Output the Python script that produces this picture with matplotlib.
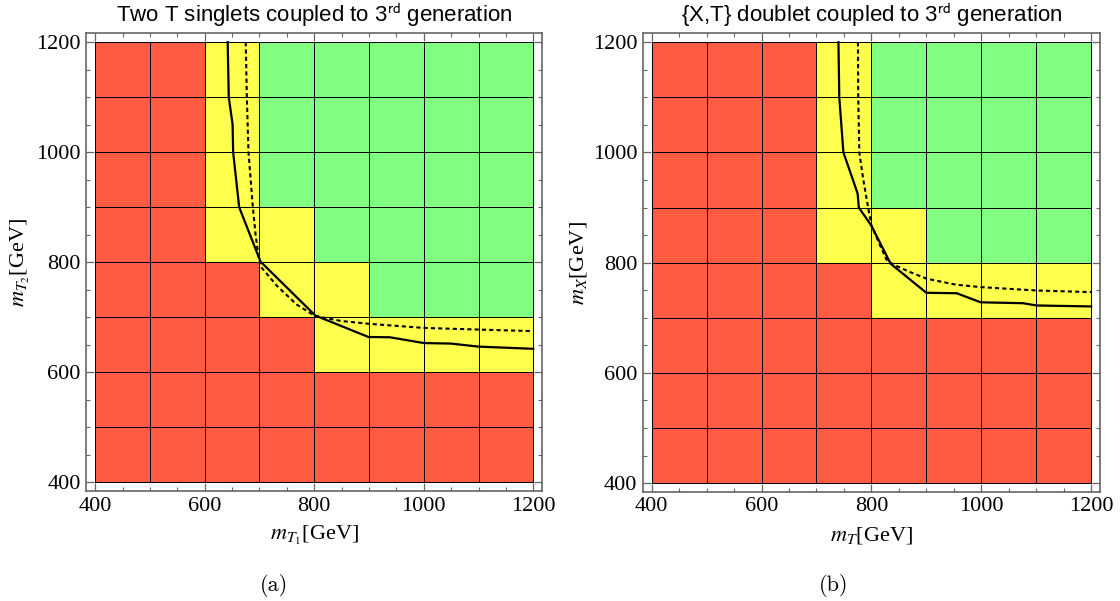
import matplotlib
matplotlib.use("Agg")
import matplotlib.pyplot as plt
import numpy as np
from matplotlib.colors import ListedColormap
from matplotlib.ticker import MultipleLocator

plt.rcParams["font.family"] = "Liberation Serif"

MASS_EDGES = [400, 500, 600, 700, 800, 900, 1000, 1100, 1200]

# 0 = excluded (red), 1 = yellow, 2 = allowed (green); rows run from m=400 upward
STATUS_A = [
    [0, 0, 0, 0, 0, 0, 0, 0],
    [0, 0, 0, 0, 0, 0, 0, 0],
    [0, 0, 0, 0, 1, 1, 1, 1],
    [0, 0, 0, 1, 1, 2, 2, 2],
    [0, 0, 1, 1, 2, 2, 2, 2],
    [0, 0, 1, 2, 2, 2, 2, 2],
    [0, 0, 1, 2, 2, 2, 2, 2],
    [0, 0, 1, 2, 2, 2, 2, 2],
]
STATUS_B = [
    [0, 0, 0, 0, 0, 0, 0, 0],
    [0, 0, 0, 0, 0, 0, 0, 0],
    [0, 0, 0, 0, 0, 0, 0, 0],
    [0, 0, 0, 0, 1, 1, 1, 1],
    [0, 0, 0, 1, 1, 2, 2, 2],
    [0, 0, 0, 1, 2, 2, 2, 2],
    [0, 0, 0, 1, 2, 2, 2, 2],
    [0, 0, 0, 1, 2, 2, 2, 2],
]

A_SOLID_X = [642, 644, 651, 652, 663, 702, 802, 899, 938, 1000, 1050, 1100, 1200]
A_SOLID_Y = [1200, 1100, 1050, 1000, 900, 801, 703, 664, 663.5, 653, 652, 646.5, 642.5]
A_DOT_X = [675, 677, 680, 684, 688, 693, 698, 704, 732, 768, 800, 823, 850, 900, 1000, 1100, 1200]
A_DOT_Y = [1200, 1100, 1000, 950, 900, 850, 812, 790, 757, 723, 703, 698, 693, 688, 680.5, 677.5, 674.7]

B_SOLID_X = [740, 741.5, 749, 764, 775, 777, 800, 835, 900, 955, 999, 1076, 1100, 1200]
B_SOLID_Y = [1200, 1100, 1000, 957, 925, 900, 867, 798, 745.3, 744.5, 728, 726.4, 722.3, 720.5]
B_DOT_X = [775.5, 776, 778, 785, 794, 800, 827, 839, 850, 870, 900, 954, 1000, 1100, 1200]
B_DOT_Y = [1200, 1100, 1000, 952, 900, 867, 806, 797, 792, 783, 771, 760, 755.5, 749.5, 746.5]

TITLES = ["Two T singlets coupled to 3$^{\\rm rd}$ generation",
          "{X,T} doublet coupled to 3$^{\\rm rd}$ generation"]
XLABELS = ["$m_{T_1}$[GeV]", "$m_T$[GeV]"]
YLABELS = ["$m_{T_2}$[GeV]", "$m_X$[GeV]"]
CAPTIONS = ["(a)", "(b)"]

cmap = ListedColormap(["#FF5A42", "#FFFF4D", "#80FF80"])
frame = "#666666"

fig = plt.figure(figsize=(11.2, 6.01), dpi=100)
panels = [
    (fig.add_axes([0.0771, 0.1830, 0.4069, 0.7615]), STATUS_A,
     (A_SOLID_X, A_SOLID_Y), (A_DOT_X, A_DOT_Y), 0.245),
    (fig.add_axes([0.5740, 0.1815, 0.4081, 0.7630]), STATUS_B,
     (B_SOLID_X, B_SOLID_Y), (B_DOT_X, B_DOT_Y), 0.744),
]

for i, (ax, status, solid, dotted, cap_x) in enumerate(panels):
    ax.pcolormesh(MASS_EDGES, MASS_EDGES, np.array(status), cmap=cmap,
                  vmin=-0.5, vmax=2.5, edgecolors="black", linewidth=0.6)
    ax.plot(solid[0], solid[1], color="black", lw=1.6, zorder=3)
    ax.plot(dotted[0], dotted[1], color="black", lw=1.5, ls=(0, (2, 1.5)), zorder=3)
    ax.set_xlim(384, 1216)
    ax.set_ylim(384, 1216)
    for ticks in (ax.xaxis, ax.yaxis):
        ticks.set_major_locator(MultipleLocator(200))
        ticks.set_minor_locator(MultipleLocator(50))
    ax.tick_params(which="both", direction="in", top=True, right=True,
                   color=frame, labelsize=16, pad=4)
    ax.tick_params(which="major", length=6, width=0.9)
    ax.tick_params(which="minor", length=3, width=0.8)
    for sp in ax.spines.values():
        sp.set_color(frame)
        sp.set_linewidth(1.2)
    ax.set_title(TITLES[i], fontsize=16, fontfamily="Liberation Sans",
                 math_fontfamily="stixsans", pad=8)
    ax.set_xlabel(XLABELS[i], fontsize=16, math_fontfamily="stix", labelpad=6)
    ax.set_ylabel(YLABELS[i], fontsize=16, math_fontfamily="stix", labelpad=3)
    fig.text(cap_x, 0.016, CAPTIONS[i], fontsize=16, fontfamily="cmr10", ha="center")

fig.savefig("out.png", dpi=100)
